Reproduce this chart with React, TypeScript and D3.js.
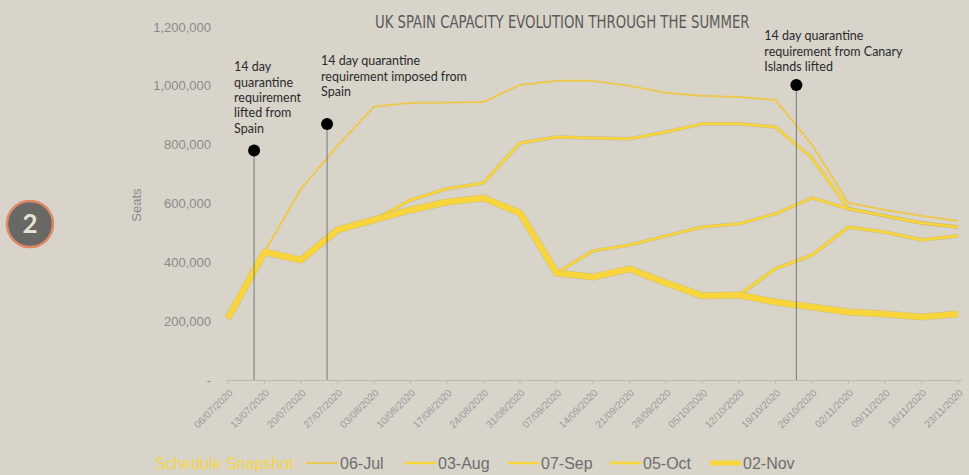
import React, { useLayoutEffect, useRef, useState } from "react";
import * as d3 from "d3";

const dates = [
  "06/07/2020", "13/07/2020", "20/07/2020", "27/07/2020", "03/08/2020", "10/08/2020",
  "17/08/2020", "24/08/2020", "31/08/2020", "07/09/2020", "14/09/2020", "21/09/2020",
  "28/09/2020", "05/10/2020", "12/10/2020", "19/10/2020", "26/10/2020", "02/11/2020",
  "09/11/2020", "16/11/2020", "23/11/2020",
];

// seats, thousands
const jul06 = [211, 435, 650, 796, 929, 942, 943, 945, 1003, 1017, 1017, 1000, 976, 966, 962, 952, 800, 602, 578, 558, 541];
const aug03 = [211, 435, 408, 510, 544, 612, 650, 670, 806, 826, 823, 820, 843, 871, 871, 860, 755, 582, 558, 534, 520];
const sep07 = [211, 435, 408, 510, 544, 578, 605, 619, 568, 364, 439, 459, 490, 520, 531, 565, 619, 582, 558, 534, 520];
const oct05 = [211, 435, 408, 510, 544, 578, 605, 619, 568, 364, 350, 378, 330, 286, 289, 378, 425, 520, 503, 476, 490];
const nov02 = [211, 435, 408, 510, 544, 578, 605, 619, 568, 364, 350, 378, 330, 286, 289, 265, 248, 231, 224, 214, 224];

const yTicks = [0, 200000, 400000, 600000, 800000, 1000000, 1200000];

const notes = [
  { date: "11/07/2020", value: 780000, gap: 18, dx: -20, text: ["14 day", "quarantine", "requirement", "lifted from", "Spain"] },
  { date: "25/07/2020", value: 870000, gap: 28, dx: -6, text: ["14 day quarantine", "requirement imposed from", "Spain"] },
  { date: "23/10/2020", value: 1003000, gap: 14, dx: -32, text: ["14 day quarantine", "requirement from Canary", "Islands lifted"] },
];

const TITLE = "UK SPAIN CAPACITY EVOLUTION THROUGH THE SUMMER";

const parse = d3.timeParse("%d/%m/%Y");
const BG = "#d8d4ca";
const YEL = "#f8d53a";

const series = [
  { name: "06-Jul", values: jul06, width: 2, dash: "1.6,2.4", color: "#f2c534" },
  { name: "03-Aug", values: aug03, width: 2.5, dash: null, color: YEL },
  { name: "07-Sep", values: sep07, width: 2.5, dash: null, color: YEL },
  { name: "05-Oct", values: oct05, width: 2.8, dash: null, color: YEL },
  { name: "02-Nov", values: nov02, width: 6, dash: null, color: YEL },
];

export default function App() {
  const titleRef = useRef<SVGTextElement>(null);
  const [titleScale, setTitleScale] = useState(1);

  useLayoutEffect(() => {
    if (titleRef.current) {
      const w = titleRef.current.getComputedTextLength();
      if (w > 0) setTitleScale(375 / w);
    }
  }, []);

  const x = d3.scaleTime()
    .domain([parse(dates[0])!, parse(dates[dates.length - 1])!])
    .range([228, 958]);
  const y = d3.scaleLinear().domain([0, 1200000]).range([380, 27]);

  const line = (vals: number[]) =>
    d3.line<number>()
      .x((_, i) => x(parse(dates[i])!))
      .y((v) => y(v * 1000))(vals) || "";

  const legendX = [307, 405, 508, 610, 710];

  return (
    <div style={{ position: "absolute", left: 0, top: 0 }}>
      <svg width={969} height={475} style={{ display: "block" }}>
        <rect width={969} height={475} fill={BG} />

        {/* badge */}
        <circle cx={30} cy={224} r={23} fill="#686864" stroke="#e0866a" strokeWidth={2.5} />
        <text x={30} y={224} dy="0.36em" textAnchor="middle" fill="#e6e2d8"
          fontFamily="Lato, sans-serif" fontWeight={700} fontSize={26}>2</text>

        {/* title */}
        <g transform={`translate(375,28) scale(${titleScale},1)`}>
          <text ref={titleRef} x={0} y={0}
            fontFamily="'DejaVu Sans Condensed', 'DejaVu Sans', sans-serif"
            fontSize={18} fill="#5a5a5a">
            {TITLE}
          </text>
        </g>

        {/* y axis labels */}
        {yTicks.map((t) => (
          <text key={t} x={211} y={y(t)} dy="0.35em" textAnchor="end"
            fontFamily="'Liberation Sans', Arial, sans-serif" fontSize={13} fill="#8a8a8a">
            {t === 0 ? "-" : d3.format(",")(t)}
          </text>
        ))}
        <text transform="translate(141,205) rotate(-90)" textAnchor="middle"
          fontFamily="'Liberation Sans', Arial, sans-serif" fontSize={13} fill="#8a8a8a">Seats</text>

        {/* x axis */}
        <line x1={226} x2={962} y1={380.5} y2={380.5} stroke="#bcb9b1" strokeWidth={1.2} />
        {dates.map((d) => {
          const px = x(parse(d)!);
          return (
            <g key={d}>
              <line x1={px} x2={px} y1={380} y2={384} stroke="#bcb9b1" />
              <text transform={`translate(${px + 3},${391}) rotate(-45)`} textAnchor="end"
                dy="0.35em" fontFamily="'Liberation Sans', Arial, sans-serif" fontSize={10} fill="#9a9a9a">
                {d}
              </text>
            </g>
          );
        })}

        {/* series */}
        {series.map((s) => (
          <g key={s.name}>
            {!s.dash && (
              <path d={line(s.values)} fill="none" stroke="#bfae6a" strokeOpacity={0.6}
                strokeWidth={s.width + 1} strokeLinejoin="round" />
            )}
            <path d={line(s.values)} fill="none" stroke={s.color} strokeWidth={s.width}
              strokeDasharray={s.dash || undefined} strokeLinecap={s.dash ? "round" : "butt"}
              strokeLinejoin="round" />
          </g>
        ))}

        {/* annotations */}
        {notes.map((n) => {
          const px = x(parse(n.date)!);
          const cy = y(n.value);
          return (
            <g key={n.date}>
              <line x1={px} x2={px} y1={cy} y2={380} stroke="#777" strokeWidth={1} />
              <circle cx={px} cy={cy} r={6} fill="#000" />
              {n.text.map((t, i) => (
                <text key={i} x={px + n.dx} y={cy - n.gap - (n.text.length - 1 - i) * 15.3}
                  fontFamily="Lato, sans-serif" fontSize={12.5} fill="#2a2a2a">{t}</text>
              ))}
            </g>
          );
        })}

        {/* legend */}
        <text x={155} y={469} fontFamily="'Liberation Sans', Arial, sans-serif" fontSize={16} fill="#f2d64b">
          Schedule Snapshot
        </text>
        {series.map((s, i) => (
          <g key={s.name} transform={`translate(${legendX[i]},463)`}>
            <line x1={0} x2={31} y1={0} y2={0} stroke={s.color} strokeWidth={s.dash ? 2 : Math.min(s.width, 5)}
              strokeDasharray={s.dash || undefined} strokeLinecap={s.dash ? "round" : "butt"} />
            <text x={33} y={6} fontFamily="'Liberation Sans', Arial, sans-serif" fontSize={16} fill="#6e6e6e">
              {s.name}
            </text>
          </g>
        ))}
      </svg>
    </div>
  );
}
